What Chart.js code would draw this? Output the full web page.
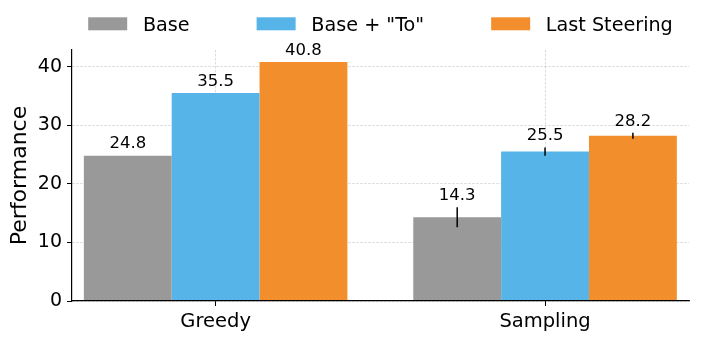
<!DOCTYPE html>
<html>
<head>
<meta charset="utf-8">
<script src="https://cdn.jsdelivr.net/npm/chart.js@4.4.0/dist/chart.umd.min.js"></script>
<style>
    html, body { margin: 0; padding: 0; background: #fff; }
</style>
</head>
<body>
<canvas id="chart" width="718" height="359"></canvas>
<script>
// Data
const categories = ['Greedy', 'Sampling'];
const seriesNames = ['Base', 'Base + "To"', 'Last Steering'];
const baseValues = [24.8, 14.3];
const toValues = [35.5, 25.5];
const steeringValues = [40.8, 28.2];
const baseErrors = [0, 1.7];
const toErrors = [0, 0.7];
const steeringErrors = [0, 0.5];
const yTicks = [0, 10, 20, 30, 40];
const yMax = 42.84;

const colors = ['#999999', '#56B4E9', '#F28E2B'];
const font = '"DejaVu Sans", sans-serif';

Chart.defaults.font.family = font;
Chart.defaults.color = '#000';

const seriesValues = [baseValues, toValues, steeringValues];
const seriesErrors = [baseErrors, toErrors, steeringErrors];

const datasets = seriesNames.map((name, s) => ({
    label: name,
    data: categories.map((c, i) => ({ x: i, y: seriesValues[s][i] })),
    errors: seriesErrors[s],
    backgroundColor: colors[s],
    borderWidth: 0,
    categoryPercentage: 0.8,
    barPercentage: 1
}));

// Error bars and value labels above each bar
const barExtras = {
    id: 'barExtras',
    afterDatasetsDraw(chart) {
        const ctx = chart.ctx;
        const yScale = chart.scales.y;
        ctx.save();
        chart.data.datasets.forEach((ds, d) => {
            const meta = chart.getDatasetMeta(d);
            meta.data.forEach((bar, i) => {
                const v = ds.data[i].y;
                const err = ds.errors[i];
                if (err > 0) {
                    ctx.strokeStyle = '#000';
                    ctx.lineWidth = 1.5;
                    ctx.beginPath();
                    ctx.moveTo(bar.x, yScale.getPixelForValue(v - err));
                    ctx.lineTo(bar.x, yScale.getPixelForValue(v + err));
                    ctx.stroke();
                }
                ctx.fillStyle = '#000';
                ctx.font = '16.5px ' + font;
                ctx.textAlign = 'center';
                ctx.textBaseline = 'alphabetic';
                ctx.fillText(v.toFixed(1), bar.x, yScale.getPixelForValue(v + err) - 7.3);
            });
        });
        ctx.restore();
    }
};

// Legend in one row, centred over the plot area
const topLegend = {
    id: 'topLegend',
    afterDraw(chart) {
        const ctx = chart.ctx;
        const area = chart.chartArea;
        const boxW = 39, boxH = 13, textGap = 15.7, itemGap = 67;
        ctx.save();
        ctx.font = '19.2px ' + font;
        const widths = chart.data.datasets.map(ds => boxW + textGap + ctx.measureText(ds.label).width);
        const total = widths.reduce((a, w) => a + w, 0) + itemGap * (widths.length - 1);
        let x = (area.left + area.right) / 2 - total / 2;
        chart.data.datasets.forEach((ds, i) => {
            ctx.fillStyle = ds.backgroundColor;
            ctx.fillRect(x, 17.3, boxW, boxH);
            ctx.fillStyle = '#000';
            ctx.textAlign = 'left';
            ctx.textBaseline = 'alphabetic';
            ctx.fillText(ds.label, x + boxW + textGap, 30.5);
            x += widths[i] + itemGap;
        });
        ctx.restore();
    }
};

new Chart(document.getElementById('chart'), {
    type: 'bar',
    data: { datasets: datasets },
    plugins: [barExtras, topLegend],
    options: {
        responsive: false,
        animation: false,
        layout: { padding: { top: 50, right: 29, left: 0, bottom: 0 } },
        plugins: {
            legend: { display: false },
            tooltip: { enabled: false }
        },
        scales: {
            x: {
                type: 'linear',
                min: -0.436,
                max: 1.437,
                offset: false,
                afterBuildTicks: s => { s.ticks = categories.map((c, i) => ({ value: i })); },
                afterFit: s => { s.height = 58; },
                ticks: {
                    callback: v => categories[v],
                    font: { size: 19.5 },
                    padding: 4,
                    maxRotation: 0,
                    autoSkip: false
                },
                grid: {
                    offset: false,
                    color: 'rgba(0,0,0,0.18)',
                    lineWidth: 0.8,
                    tickColor: '#000',
                    tickLength: 5,
                    tickWidth: 1
                },
                border: { color: '#000', width: 1.2, dash: [2.5, 1.5], z: 1 }
            },
            y: {
                min: 0,
                max: yMax,
                afterBuildTicks: s => { s.ticks = yTicks.map(v => ({ value: v })); },
                afterFit: s => { s.width = 72; },
                ticks: { font: { size: 19 }, padding: 5 },
                grid: {
                    color: 'rgba(0,0,0,0.18)',
                    lineWidth: 0.8,
                    tickColor: '#000',
                    tickLength: 5,
                    tickWidth: 1
                },
                border: { color: '#000', width: 1.2, dash: [2.5, 1.5], z: 1 },
                title: {
                    display: true,
                    text: 'Performance',
                    font: { size: 22 },
                    padding: { top: 7, bottom: 0 }
                }
            }
        }
    }
});
</script>
</body>
</html>
